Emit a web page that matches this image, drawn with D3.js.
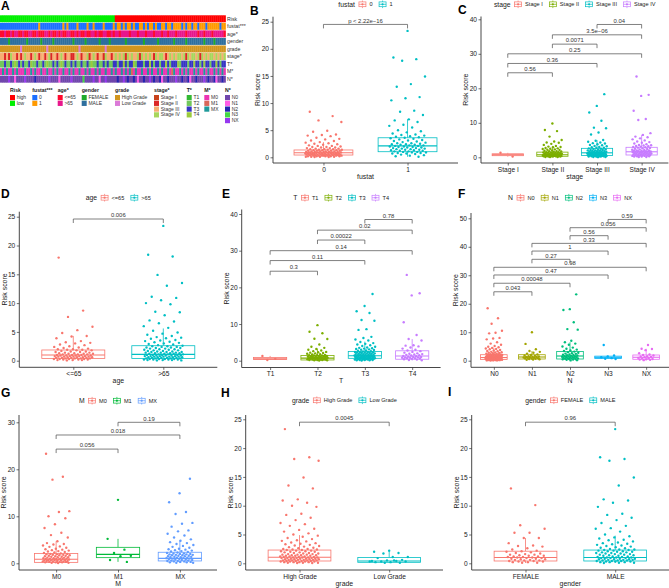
<!DOCTYPE html>
<html><head><meta charset="utf-8">
<script src="https://cdn.jsdelivr.net/npm/d3@7"></script>
<style>
body{margin:0;background:#fff}
svg{display:block}
text{font-family:"Liberation Sans",Arial,Helvetica,sans-serif}
</style></head>
<body><svg id="c" width="669" height="588"></svg>
<script>
// ================= DATA =================
// Heatmap (panel A): one character per sample column, digit = index into the row's levels
const hmRowNames = ["Risk","fustat***","age*","gender","grade","stage*","T*","M*","N*"];
const hmRisk   = "111111111111111111111111111111111111111111111111111111111" + "0000000000000000000000000000000000000000000000000000000";
const hmFustat = "000000000000000000010000000000010100001000010010000100001" + "0110101101001101011010011011011110101101101110111111011";
const hmAge    = "001001011001001100100011010010100110010100100110100110010" + "1101111011101110111011101101110111101111101101110111110";
const hmGender = "111101111111101111110111110111111111011111011111101111011" + "1111101111111101111110111111101111101111111101111011111";
const hmGrade  = "000000000010000000000001000000000000000100000000000010000" + "0000000000000000000000000000000000000000000000000000000";
const hmStage  = "221213221212322123212212312212321221123212231232122132212" + "3232313232231323232132332123232332313233231323233232323";
const hmT      = "112112131212112311211213112121312112121121121311211212112" + "2122321223122212232122122321222312221223221232212232122";
const hmM      = "020200202000200202002002002020020020200200202002020020020" + "2002020210200200202002020020120020202002020020200202020";
const hmN      = "000040010000400002000000400001000004000003000040010040000" + "0200402002010020040200210020004002002100200040200210020";

const riskLevels   = ["high","low"];
const fustatLevels = ["0","1"];
const ageLevels    = ["<=65",">65"];
const genderLevels = ["FEMALE","MALE"];
const gradeLevels  = ["High Grade","Low Grade"];
const stageLevels  = ["Stage I","Stage II","Stage III","Stage IV"];
const tLevels      = ["T1","T2","T3","T4"];
const mLevels      = ["M0","M1","MX"];
const nLevels      = ["N0","N1","N2","N3","NX"];

// Box statistics per group: [lower whisker, Q1, median, Q3, upper whisker]
const fustatBox = [[0.05,0.42,0.85,1.35,2.8],[0.1,1.03,2.1,3.6,7.0]];
const fustat0 = [8.4,7.6,6.8,6.5,4.9,4.7,4.2,4.1,4.0,3.9,3.6,3.4,3.3,3.1,3.0,2.8,2.7,2.6,2.5,2.4,2.3,2.2,2.1,2.1,2.0,1.9,1.9,1.8,1.8,1.7,1.7,1.6,1.6,1.5,1.5,1.5,1.4,1.4,1.4,1.3,1.3,1.3,1.2,1.2,1.2,1.2,1.1,1.1,1.1,1.1,1.0,1.0,1.0,1.0,1.0,0.9,0.9,0.9,0.9,0.9,0.8,0.8,0.8,0.8,0.8,0.8,0.7,0.7,0.7,0.7,0.7,0.7,0.6,0.6,0.6,0.6,0.6,0.6,0.5,0.5,0.5,0.5,0.5,0.5,0.5,0.4,0.4,0.4,0.4,0.4,0.4,0.3,0.3,0.3,0.3,0.3,0.3,0.2,0.2,0.2,0.2,0.2,0.1,0.1,0.1,0.1,0.05,0.05];
const fustat1 = [23.3,18.4,18.1,17.8,14.9,13.5,13.0,11.1,10.9,10.5,8.6,8.4,7.8,7.0,6.8,6.5,6.0,5.8,5.5,5.0,4.8,4.6,4.4,4.2,4.1,4.0,3.9,3.8,3.7,3.6,3.5,3.4,3.3,3.2,3.1,3.0,2.9,2.8,2.7,2.6,2.6,2.5,2.4,2.4,2.3,2.3,2.2,2.2,2.1,2.1,2.0,2.0,1.9,1.9,1.8,1.8,1.7,1.7,1.6,1.6,1.5,1.5,1.4,1.4,1.3,1.3,1.2,1.2,1.1,1.1,1.0,1.0,0.9,0.9,0.8,0.8,0.7,0.7,0.6,0.5,0.4,0.3,0.2,0.1];
const fustatTests = [["0","1","p < 2.22e\u221216",24.5]];

const stageBox = [[0.2,0.47,0.75,1.02,1.3],[0.05,0.3,0.75,1.5,3.3],[0.05,0.5,1.3,2.6,5.0],[0.05,0.67,1.6,2.9,6.5]];
const stageI   = [1.3,0.2];
const stageII  = [9.8,7.9,7.6,6.0,5.0,4.6,4.3,4.2,3.9,3.6,3.3,3.1,3.0,2.9,2.7,2.6,2.5,2.4,2.3,2.2,2.1,2.0,1.9,1.8,1.8,1.7,1.6,1.5,1.5,1.4,1.4,1.3,1.3,1.2,1.2,1.1,1.1,1.0,1.0,1.0,0.9,0.9,0.9,0.8,0.8,0.8,0.7,0.7,0.7,0.7,0.6,0.6,0.6,0.6,0.5,0.5,0.5,0.5,0.4,0.4,0.4,0.4,0.3,0.3,0.3,0.3,0.2,0.2,0.2,0.1,0.1,0.1];
const stageIII = [18.3,14.9,13.0,10.6,8.6,8.4,7.2,6.6,5.0,4.8,4.5,4.3,4.1,4.0,3.8,3.6,3.5,3.3,3.2,3.0,2.9,2.8,2.7,2.6,2.5,2.4,2.3,2.2,2.1,2.1,2.0,2.0,1.9,1.9,1.8,1.8,1.7,1.7,1.6,1.6,1.5,1.5,1.4,1.4,1.3,1.3,1.3,1.2,1.2,1.2,1.1,1.1,1.1,1.0,1.0,1.0,0.9,0.9,0.9,0.8,0.8,0.8,0.7,0.7,0.7,0.6,0.6,0.6,0.5,0.5,0.5,0.4,0.4,0.4,0.3,0.3,0.3,0.2,0.2,0.2,0.1,0.1,0.05];
const stageIV  = [23.4,18.1,17.8,13.5,11.1,10.8,7.0,6.5,6.0,5.8,5.5,5.2,4.9,4.6,4.4,4.2,4.0,3.8,3.6,3.5,3.4,3.3,3.2,3.1,3.0,2.9,2.8,2.7,2.6,2.5,2.4,2.3,2.2,2.1,2.0,2.0,1.9,1.9,1.8,1.8,1.7,1.7,1.6,1.6,1.5,1.5,1.4,1.4,1.3,1.3,1.2,1.2,1.1,1.1,1.0,1.0,0.9,0.9,0.8,0.8,0.7,0.7,0.6,0.6,0.5,0.5,0.4,0.4,0.3,0.3,0.2,0.2,0.1,0.1];
const stageTests = [["Stage I","Stage II","0.56",24.5],["Stage I","Stage III","0.36",27.2],["Stage I","Stage IV","0.25",30.0],["Stage II","Stage III","0.0071",32.8],["Stage II","Stage IV","3.5e\u221206",35.5],["Stage III","Stage IV","0.04",38.5]];

const ageBox = [[0.05,0.4,1.0,1.86,4.3],[0.05,0.4,1.1,2.6,5.6]];
const ageLe65 = [17.9,8.7,7.6,5.9,5.3,4.8,4.3,4.2,3.9,3.4,3.2,3.1,3.0,2.8,2.7,2.5,2.4,2.3,2.2,2.1,2.0,2.0,1.9,1.9,1.8,1.8,1.7,1.6,1.6,1.5,1.5,1.4,1.4,1.3,1.3,1.2,1.2,1.2,1.1,1.1,1.1,1.0,1.0,1.0,0.9,0.9,0.9,0.9,0.8,0.8,0.8,0.8,0.7,0.7,0.7,0.7,0.6,0.6,0.6,0.6,0.5,0.5,0.5,0.5,0.4,0.4,0.4,0.4,0.3,0.3,0.3,0.3,0.2,0.2,0.2,0.1,0.1,0.1,0.05];
const ageGt65 = [23.4,18.4,18.1,14.9,13.5,13.0,11.1,10.9,10.5,10.0,9.8,8.5,8.4,7.9,7.0,6.8,6.5,6.0,5.7,5.2,4.9,4.7,4.5,4.3,4.1,4.0,3.9,3.8,3.6,3.5,3.4,3.3,3.2,3.1,3.0,2.9,2.8,2.7,2.6,2.5,2.5,2.4,2.4,2.3,2.3,2.2,2.2,2.1,2.1,2.0,2.0,1.9,1.9,1.8,1.8,1.7,1.7,1.6,1.6,1.5,1.5,1.5,1.4,1.4,1.4,1.3,1.3,1.3,1.2,1.2,1.2,1.1,1.1,1.1,1.0,1.0,1.0,1.0,0.9,0.9,0.9,0.9,0.8,0.8,0.8,0.8,0.7,0.7,0.7,0.7,0.6,0.6,0.6,0.6,0.5,0.5,0.5,0.5,0.4,0.4,0.4,0.4,0.3,0.3,0.3,0.3,0.2,0.2,0.2,0.2,0.1,0.1,0.1,0.05,0.05];
const ageTests = [["<=65",">65","0.006",24.6]];

const tBox = [[0.2,0.35,0.5,0.9,1.3],[0.05,0.2,0.7,1.4,3.3],[0.05,0.65,1.35,2.5,5.2],[0.05,0.4,1.3,2.7,5.9]];
const t1 = [1.3,0.5,0.2];
const t2 = [9.7,7.9,7.5,6.0,5.9,4.4,3.8,3.5,3.2,3.0,2.8,2.6,2.4,2.3,2.2,2.1,2.0,1.9,1.8,1.7,1.6,1.5,1.5,1.4,1.4,1.3,1.3,1.2,1.2,1.1,1.1,1.0,1.0,1.0,0.9,0.9,0.9,0.8,0.8,0.8,0.7,0.7,0.7,0.6,0.6,0.6,0.5,0.5,0.5,0.4,0.4,0.4,0.3,0.3,0.3,0.2,0.2,0.2,0.1,0.1,0.05];
const t3 = [18.2,14.9,13.5,13.0,11.1,10.9,8.6,8.4,6.5,6.2,5.8,5.5,5.1,4.8,4.6,4.4,4.2,4.0,3.8,3.6,3.5,3.4,3.3,3.2,3.1,3.0,2.9,2.8,2.7,2.6,2.5,2.4,2.4,2.3,2.3,2.2,2.2,2.1,2.1,2.0,2.0,1.9,1.9,1.8,1.8,1.7,1.7,1.6,1.6,1.5,1.5,1.5,1.4,1.4,1.4,1.3,1.3,1.3,1.2,1.2,1.2,1.1,1.1,1.1,1.0,1.0,1.0,0.9,0.9,0.9,0.8,0.8,0.8,0.7,0.7,0.7,0.6,0.6,0.6,0.5,0.5,0.5,0.4,0.4,0.4,0.3,0.3,0.3,0.2,0.2,0.2,0.1,0.1,0.05];
const t4 = [23.4,18.4,17.8,10.5,7.0,5.9,5.5,4.2,4.1,3.9,3.6,3.3,3.0,2.8,2.6,2.4,2.2,2.0,1.9,1.8,1.7,1.6,1.5,1.4,1.3,1.2,1.1,1.0,1.0,0.9,0.9,0.8,0.8,0.7,0.7,0.6,0.5,0.4,0.3,0.2,0.1];
const tTests = [["T1","T2","0.3",24.4],["T1","T3","0.11",27.3],["T1","T4","0.14",30.0],["T2","T3","0.00022",32.9],["T2","T4","0.02",35.6],["T3","T4","0.78",38.5]];

const nBox = [[0.05,0.4,1.1,2.1,4.6],[0.3,0.6,1.3,2.1,3.4],[0.1,0.6,1.65,3.2,6.5],[0.6,0.8,1.2,1.6,1.8],[0.2,0.5,1.2,2.0,4.2]];
const n0 = [18.4,14.9,13.0,10.5,9.8,9.6,8.0,7.8,7.5,6.5,6.0,5.6,5.2,4.9,4.7,4.5,4.3,4.1,4.0,3.8,3.6,3.4,3.3,3.1,3.0,2.9,2.8,2.7,2.6,2.5,2.4,2.3,2.2,2.2,2.1,2.1,2.0,2.0,1.9,1.9,1.8,1.8,1.7,1.7,1.6,1.6,1.5,1.5,1.5,1.4,1.4,1.4,1.3,1.3,1.3,1.2,1.2,1.2,1.1,1.1,1.1,1.0,1.0,1.0,1.0,0.9,0.9,0.9,0.9,0.8,0.8,0.8,0.8,0.7,0.7,0.7,0.7,0.6,0.6,0.6,0.6,0.5,0.5,0.5,0.5,0.4,0.4,0.4,0.4,0.3,0.3,0.3,0.3,0.2,0.2,0.2,0.1,0.1,0.1,0.05];
const n1 = [10.0,5.9,4.0,3.4,3.1,2.8,2.5,2.2,2.0,1.8,1.7,1.6,1.5,1.4,1.3,1.3,1.2,1.1,1.0,1.0,0.9,0.8,0.8,0.7,0.6,0.5,0.4,0.3];
const n2 = [23.3,18.1,17.8,13.5,11.1,10.9,7.0,6.5,6.0,5.6,5.0,4.6,4.2,3.9,3.6,3.4,3.2,3.0,2.8,2.6,2.5,2.4,2.2,2.1,2.0,1.9,1.8,1.7,1.6,1.6,1.5,1.4,1.3,1.3,1.2,1.1,1.0,1.0,0.9,0.8,0.8,0.7,0.6,0.6,0.5,0.4,0.3,0.2,0.1];
const n3 = [5.5,1.8,1.5,1.2,0.9,0.7,0.6];
const nx = [5.5,4.2,4.1,3.7,2.6,2.2,2.0,1.8,1.6,1.5,1.3,1.2,1.0,0.9,0.8,0.6,0.5,0.4,0.3,0.2];
const nTests = [["N0","N1","0.043",24.2],["N0","N2","0.00048",27.2],["N0","N3","0.47",30.1],["N0","NX","0.98",32.8],["N1","N2","0.27",35.6],["N1","N3","1",38.5],["N1","NX","0.33",41.2],["N2","N3","0.56",43.9],["N2","NX","0.056",46.7],["N3","NX","0.59",49.6]];

const mBox = [[0.05,0.2,0.85,2.1,4.7],[0.3,1.2,1.9,3.4,5.2],[0.05,0.5,1.05,2.35,4.9]];
const m0 = [23.3,18.4,17.8,11.1,10.9,10.0,9.6,8.3,7.5,6.5,6.0,5.5,4.7,4.3,4.1,4.0,3.8,3.6,3.5,3.3,3.1,3.0,2.9,2.8,2.7,2.6,2.5,2.4,2.3,2.2,2.1,2.0,2.0,1.9,1.9,1.8,1.8,1.7,1.7,1.6,1.6,1.5,1.5,1.4,1.4,1.3,1.3,1.2,1.2,1.1,1.1,1.0,1.0,1.0,0.9,0.9,0.9,0.8,0.8,0.8,0.7,0.7,0.7,0.6,0.6,0.6,0.5,0.5,0.5,0.4,0.4,0.4,0.3,0.3,0.3,0.2,0.2,0.2,0.1,0.1,0.05];
const m1 = [13.5,5.2,2.9,2.2,1.6,1.5,0.7,0.3];
const mx = [18.0,14.9,13.0,10.9,10.5,8.6,8.4,7.8,7.0,6.8,6.3,5.9,5.5,5.1,4.8,4.5,4.3,4.1,3.9,3.7,3.5,3.3,3.1,3.0,2.9,2.8,2.7,2.6,2.5,2.4,2.3,2.2,2.1,2.1,2.0,2.0,1.9,1.9,1.8,1.8,1.7,1.7,1.6,1.6,1.5,1.5,1.4,1.4,1.3,1.3,1.2,1.2,1.1,1.1,1.0,1.0,0.9,0.9,0.8,0.8,0.7,0.7,0.6,0.6,0.5,0.5,0.4,0.4,0.3,0.3,0.2,0.2,0.1,0.1];
const mTests = [["M0","M1","0.056",24.3],["M0","MX","0.018",27.3],["M1","MX","0.19",30.0]];

const gradeBox = [[0.05,0.4,1.04,2.3,4.9],[0.05,0.17,0.4,1.0,2.2]];
const gradeHigh = [23.3,18.4,18.1,17.8,14.9,13.5,13.0,11.1,10.9,10.5,10.0,9.8,8.6,8.4,7.9,7.5,7.0,6.8,6.5,6.0,5.8,5.5,5.2,5.0,4.8,4.6,4.4,4.2,4.0,3.9,3.8,3.6,3.5,3.4,3.3,3.2,3.1,3.0,2.9,2.8,2.7,2.6,2.5,2.5,2.4,2.4,2.3,2.3,2.2,2.2,2.1,2.1,2.0,2.0,1.9,1.9,1.8,1.8,1.7,1.7,1.6,1.6,1.5,1.5,1.5,1.4,1.4,1.4,1.3,1.3,1.3,1.2,1.2,1.2,1.1,1.1,1.1,1.0,1.0,1.0,1.0,0.9,0.9,0.9,0.9,0.8,0.8,0.8,0.8,0.7,0.7,0.7,0.7,0.6,0.6,0.6,0.6,0.5,0.5,0.5,0.5,0.4,0.4,0.4,0.4,0.3,0.3,0.3,0.3,0.2,0.2,0.2,0.2,0.1,0.1,0.1,0.05,0.05];
const gradeLow = [2.2,2.0,1.8,1.7,1.1,1.1,0.9,0.6,0.5,0.4,0.4,0.3,0.3,0.2,0.2,0.1,0.1,0.3,0.5];
const gradeTests = [["High Grade","Low Grade","0.0045",24.5]];

const genderBox = [[0.05,0.4,1.0,2.1,4.4],[0.05,0.4,1.0,2.3,4.8]];
const female = [13.0,10.1,6.6,6.0,5.3,5.3,4.4,4.4,3.5,3.1,3.0,2.9,2.6,2.4,2.2,2.1,2.0,1.9,1.8,1.7,1.6,1.5,1.5,1.4,1.3,1.3,1.2,1.2,1.1,1.1,1.0,1.0,0.9,0.9,0.8,0.8,0.7,0.7,0.6,0.6,0.5,0.5,0.4,0.4,0.3,0.3,0.2,0.2,0.1,0.1];
const male = [23.3,18.4,18.1,17.8,14.9,13.5,11.1,10.9,10.5,9.8,8.6,8.4,7.9,7.5,7.0,6.5,6.1,6.0,5.5,5.0,4.7,4.5,4.3,4.1,4.0,3.8,3.6,3.5,3.4,3.3,3.2,3.1,3.0,2.9,2.8,2.7,2.6,2.5,2.4,2.4,2.3,2.3,2.2,2.2,2.1,2.1,2.0,2.0,1.9,1.9,1.8,1.8,1.7,1.7,1.6,1.6,1.5,1.5,1.4,1.4,1.3,1.3,1.2,1.2,1.1,1.1,1.0,1.0,1.0,0.9,0.9,0.9,0.8,0.8,0.8,0.7,0.7,0.7,0.6,0.6,0.6,0.5,0.5,0.5,0.4,0.4,0.4,0.3,0.3,0.3,0.2,0.2,0.2,0.1,0.1,0.05];
const genderTests = [["FEMALE","MALE","0.96",24.5]];

// ================= DRAWING =================
const svg = d3.select("#c");
const TXT = "#1a1a1a";

// ---- Panel A: heatmap
const hmData = [hmRisk,hmFustat,hmAge,hmGender,hmGrade,hmStage,hmT,hmM,hmN];
const hmLevels = [riskLevels,fustatLevels,ageLevels,genderLevels,gradeLevels,stageLevels,tLevels,mLevels,nLevels];
const hmColors = [
  ["#FF0000","#00F000"],
  ["#1C6FFF","#FF9A00"],
  ["#FF0A2E","#E8168C"],
  ["#1FAA2A","#2E6F9E"],
  ["#D2961E","#DB7AD8"],
  ["#C8421A","#DC2626","#F6AE72","#A8D65C"],
  ["#33B833","#72C85C","#3636C4","#9BCB3C"],
  ["#EC34B4","#D9685A","#1F9A9A"],
  ["#7046AC","#FF5CE6","#2424B0","#44D844","#9638F0"]
];
const hmX0 = 0, hmX1 = 225.5, hmY0 = 15.3, hmPitch = 7.55, hmH = 6.95;
const gA = svg.append("g");
hmData.forEach((s, r) => {
  const codes = s.split("");
  const xc = d3.scaleBand().domain(d3.range(codes.length)).range([hmX0, hmX1]);
  gA.selectAll(null).data(codes).enter().append("rect")
    .attr("x", (d,i) => xc(i)).attr("width", xc.bandwidth() + 0.35)
    .attr("y", hmY0 + r*hmPitch).attr("height", hmH)
    .attr("fill", d => hmColors[r][+d]);
  gA.append("text").attr("x", 227).attr("y", hmY0 + r*hmPitch + hmH/2 + 1.8)
    .attr("font-size", 5.2).attr("fill", "#333").text(hmRowNames[r]);
});
// heatmap legend
const hmLegX = [10, 32.3, 57.7, 81.7, 115, 154, 186.7, 204.3, 225];
hmData.forEach((s, r) => {
  const lx = hmLegX[r];
  gA.append("text").attr("x", lx).attr("y", 92).attr("font-size", 5.2)
    .attr("font-weight", "bold").attr("fill", "#222").text(hmRowNames[r]);
  hmLevels[r].forEach((lv, k) => {
    const yy = 95 + k*5.75;
    gA.append("rect").attr("x", lx).attr("y", yy).attr("width", 5).attr("height", 5.2).attr("fill", hmColors[r][k]);
    gA.append("text").attr("x", lx + 6.7).attr("y", yy + 4.2).attr("font-size", 5).attr("fill", "#333").text(lv);
  });
});

// ---- box-plot panels
const pal = {
  2: ["#F8766D","#00BFC4"],
  3: ["#F8766D","#00BA38","#619CFF"],
  4: ["#F8766D","#7CAE00","#00BFC4","#C77CFF"],
  5: ["#F8766D","#A3A500","#00BF7D","#00B0F6","#E76BF3"]
};

function boxPanel(cfg, cats, boxes, groups, tests) {
  const g = svg.append("g");
  const cols = pal[cats.length];
  const x = d3.scalePoint().domain(cats).range([cfg.x0, cfg.x1]).padding(0.6);
  const y = d3.scaleLinear().domain([0, cfg.tmax]).range([cfg.yz, cfg.yt]);
  const step = x.step();
  const bw = 0.7 * step;

  // axes
  const ya = g.append("g").attr("transform", `translate(${cfg.x0},0)`)
    .call(d3.axisLeft(y).tickValues(cfg.ticks).tickSize(2.5).tickPadding(1.5));
  const xa = g.append("g").attr("transform", `translate(0,${cfg.yBot})`)
    .call(d3.axisBottom(x).tickSize(2.5).tickPadding(1.8));
  [ya, xa].forEach(a => {
    a.select(".domain").remove();
    a.selectAll("line").attr("stroke", "#333").attr("stroke-width", 0.7);
    a.selectAll("text").attr("font-size", 6.6).attr("fill", TXT)
      .attr("font-family", '"Liberation Sans",Arial,sans-serif');
  });
  g.append("line").attr("x1", cfg.x0).attr("x2", cfg.x0).attr("y1", cfg.yTop).attr("y2", cfg.yBot)
    .attr("stroke", "#333").attr("stroke-width", 0.9);
  g.append("line").attr("x1", cfg.x0).attr("x2", cfg.x1).attr("y1", cfg.yBot).attr("y2", cfg.yBot)
    .attr("stroke", "#333").attr("stroke-width", 0.9);
  g.append("text").attr("transform", `translate(${cfg.x0 - 15},${(cfg.yTop + cfg.yBot)/2}) rotate(-90)`)
    .attr("text-anchor", "middle").attr("dy", "0.35em").attr("font-size", 6.9).attr("fill", TXT).text("Risk score");
  g.append("text").attr("x", (cfg.x0 + cfg.x1)/2).attr("y", cfg.yBot + 15.8)
    .attr("text-anchor", "middle").attr("font-size", 6.9).attr("fill", TXT).text(cfg.xtitle);

  // boxes
  cats.forEach((c, i) => {
    const [lo, q1, md, q3, hi] = boxes[i];
    const cx = x(c);
    g.append("line").attr("x1", cx).attr("x2", cx).attr("y1", y(hi)).attr("y2", y(q3)).attr("stroke", cols[i]).attr("stroke-width", 0.8);
    g.append("line").attr("x1", cx).attr("x2", cx).attr("y1", y(q1)).attr("y2", y(lo)).attr("stroke", cols[i]).attr("stroke-width", 0.8);
    g.append("rect").attr("x", cx - bw/2).attr("width", bw).attr("y", y(q3)).attr("height", Math.max(0.5, y(q1) - y(q3)))
      .attr("fill", "#fff").attr("stroke", cols[i]).attr("stroke-width", 0.8);
    g.append("line").attr("x1", cx - bw/2).attr("x2", cx + bw/2).attr("y1", y(md)).attr("y2", y(md)).attr("stroke", cols[i]).attr("stroke-width", 1.1);
  });
  // jittered points (deterministic low-discrepancy jitter, width 0.22 of a category step)
  cats.forEach((c, i) => {
    g.selectAll(null).data(groups[i]).enter().append("circle")
      .attr("cx", (d, k) => x(c) + (((k * 0.6180339887 + 0.37 * i + 0.13) % 1) - 0.5) * 2 * 0.22 * step)
      .attr("cy", d => y(d)).attr("r", 1.2).attr("fill", cols[i]);
  });
  // significance brackets
  const tip = 4;
  tests.forEach(([a, b, lab, v]) => {
    const xa1 = x(a), xb1 = x(b), yy = y(v);
    g.append("path").attr("d", `M${xa1},${yy + tip}V${yy}H${xb1}V${yy + tip}`)
      .attr("fill", "none").attr("stroke", "#555").attr("stroke-width", 0.75);
    g.append("text").attr("x", (xa1 + xb1)/2).attr("y", yy - 1.8).attr("text-anchor", "middle")
      .attr("font-size", 5.9).attr("fill", "#333").text(lab);
  });
  // legend (centred over plot)
  const lg = g.append("g");
  let cur = 0;
  const t = lg.append("text").attr("x", 0).attr("y", cfg.ly + 2.4).attr("font-size", 6.8).attr("fill", TXT).text(cfg.ltitle);
  cur += t.node().getComputedTextLength() + 3.5;
  cats.forEach((c, i) => {
    const kx = cur;
    lg.append("line").attr("x1", kx + 4).attr("x2", kx + 4).attr("y1", cfg.ly - 3.8).attr("y2", cfg.ly + 3.8).attr("stroke", cols[i]).attr("stroke-width", 0.7);
    lg.append("rect").attr("x", kx + 0.5).attr("y", cfg.ly - 2.4).attr("width", 7).attr("height", 4.8)
      .attr("fill", "#fff").attr("stroke", cols[i]).attr("stroke-width", 0.7);
    lg.append("line").attr("x1", kx + 0.5).attr("x2", kx + 7.5).attr("y1", cfg.ly).attr("y2", cfg.ly).attr("stroke", cols[i]).attr("stroke-width", 0.7);
    lg.append("circle").attr("cx", kx + 4).attr("cy", cfg.ly).attr("r", 1.1).attr("fill", cols[i]);
    cur += 8 + 3;
    const tt = lg.append("text").attr("x", cur).attr("y", cfg.ly + 2).attr("font-size", 5.6).attr("fill", TXT).text(c);
    cur += tt.node().getComputedTextLength() + 6;
  });
  cur -= 6;
  const lx0 = (cfg.x0 + cfg.x1)/2 - cur/2;
  lg.attr("transform", `translate(${lx0},0)`);
}

boxPanel({x0:273,x1:458,yz:157.3,yt:21.7,tmax:25,ticks:[0,5,10,15,20,25],yTop:16.7,yBot:163,ly:4.3,xtitle:"fustat",ltitle:"fustat"},
  fustatLevels, fustatBox, [fustat0, fustat1], fustatTests);
boxPanel({x0:481,x1:668.4,yz:157.3,yt:19.3,tmax:40,ticks:[0,10,20,30,40],yTop:16.5,yBot:163,ly:4.3,xtitle:"stage",ltitle:"stage"},
  stageLevels, stageBox, [stageI, stageII, stageIII, stageIV], stageTests);
boxPanel({x0:19.3,x1:217.3,yz:360.7,yt:216.7,tmax:25,ticks:[0,5,10,15,20,25],yTop:211.7,yBot:367.3,ly:197.7,xtitle:"age",ltitle:"age"},
  ageLevels, ageBox, [ageLe65, ageGt65], ageTests);
boxPanel({x0:241.7,x1:440.6,yz:360.7,yt:214,tmax:40,ticks:[0,10,20,30,40],yTop:209.5,yBot:367.5,ly:197.7,xtitle:"T",ltitle:"T"},
  tLevels, tBox, [t1, t2, t3, t4], tTests);
boxPanel({x0:471,x1:669,yz:360.7,yt:218.3,tmax:50,ticks:[0,10,20,30,40,50],yTop:213,yBot:367.3,ly:197.7,xtitle:"N",ltitle:"N"},
  nLevels, nBox, [n0, n1, n2, n3, nx], nTests);
boxPanel({x0:19,x1:217,yz:563.3,yt:422.3,tmax:30,ticks:[0,10,20,30],yTop:415,yBot:570,ly:400.7,xtitle:"M",ltitle:"M"},
  mLevels, mBox, [m0, m1, mx], mTests);
boxPanel({x0:245.7,x1:443,yz:563.3,yt:419.3,tmax:25,ticks:[0,5,10,15,20,25],yTop:415,yBot:570,ly:400.3,xtitle:"grade",ltitle:"grade"},
  gradeLevels, gradeBox, [gradeHigh, gradeLow], gradeTests);
boxPanel({x0:471.7,x1:669,yz:563.3,yt:419.3,tmax:25,ticks:[0,5,10,15,20,25],yTop:415,yBot:570,ly:400.3,xtitle:"gender",ltitle:"gender"},
  genderLevels, genderBox, [female, male], genderTests);

// panel letters
const letters = [["A",1,9.6],["B",250,15],["C",458,13.5],["D",1,198],["E",222,198],["F",458,198],["G",1,397],["H",221,397],["I",448,396]];
letters.forEach(([l, x, y]) => svg.append("text").attr("x", x).attr("y", y)
  .attr("font-size", 12).attr("font-weight", "bold").attr("fill", "#000").text(l));
</script>
</body></html>
